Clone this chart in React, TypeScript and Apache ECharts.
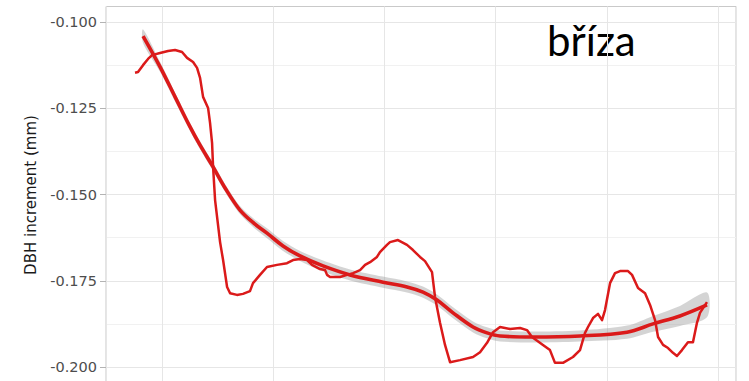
import React, { useEffect, useRef } from "react";
import * as echarts from "echarts";

// Running (moving-window) DBH increment, red raw trace
const traceX = [75.7, 78.4, 82.9, 87.4, 91.0, 98.2, 105.4, 111.7, 118.0, 122.5, 127.9, 131.5, 134.2, 136.9, 141.4, 143.2, 145.0, 145.9, 147.7, 152.2, 154.9, 158.5, 161.2, 167.4, 172.8, 179.1, 181.8, 188.1, 194.4, 203.4, 212.4, 217.8, 224.1, 230.4, 234.9, 242.1, 246.6, 248.4, 251.1, 260.1, 266.4, 271.8, 278.1, 282.6, 287.1, 293.3, 296.0, 302.3, 305.0, 312.2, 320.3, 325.7, 332.0, 336.5, 342.8, 345.5, 350.0, 354.5, 359.0, 368.0, 379.7, 386.0, 392.3, 397.7, 404.0, 413.0, 422.0, 428.2, 432.7, 442.6, 448.9, 453.4, 460.6, 469.6, 475.9, 480.4, 483.1, 487.6, 492.1, 495.7, 498.4, 502.9, 507.4, 511.9, 519.1, 522.7, 528.1, 534.4, 538.9, 543.4, 546.1, 550.6, 555.1, 559.5, 563.1, 567.6, 573.0, 577.5, 581.1, 583.8, 590.1];
const traceY = [-0.1147, -0.1145, -0.1125, -0.1107, -0.1096, -0.1090, -0.1084, -0.1081, -0.1087, -0.1104, -0.1116, -0.1133, -0.1162, -0.1217, -0.1249, -0.1293, -0.1351, -0.1420, -0.1516, -0.1638, -0.1690, -0.1768, -0.1786, -0.1791, -0.1788, -0.1780, -0.1757, -0.1733, -0.1710, -0.1704, -0.1699, -0.1690, -0.1687, -0.1690, -0.1704, -0.1716, -0.1719, -0.1733, -0.1739, -0.1739, -0.1733, -0.1728, -0.1719, -0.1704, -0.1696, -0.1681, -0.1667, -0.1646, -0.1638, -0.1632, -0.1646, -0.1661, -0.1681, -0.1693, -0.1725, -0.1797, -0.1872, -0.1936, -0.1986, -0.1980, -0.1971, -0.1957, -0.1930, -0.1899, -0.1884, -0.1890, -0.1887, -0.1893, -0.1913, -0.1936, -0.1951, -0.1988, -0.1988, -0.1971, -0.1951, -0.1901, -0.1884, -0.1858, -0.1846, -0.1864, -0.1835, -0.1757, -0.1728, -0.1722, -0.1722, -0.1733, -0.1771, -0.1786, -0.1820, -0.1864, -0.1913, -0.1936, -0.1945, -0.1959, -0.1968, -0.1951, -0.1928, -0.1928, -0.1872, -0.1843, -0.1812];

// Smoothed fit and its standard-error half-width
const fitX = [82.9, 98.2, 111.7, 125.2, 134.2, 145.9, 156.7, 170.1, 183.6, 194.4, 208.8, 224.1, 244.8, 269.1, 298.7, 320.3, 334.7, 347.3, 361.7, 379.7, 392.3, 404.0, 433.6, 475.9, 518.2, 541.6, 565.8, 590.1];
const fitY = [-0.1041, -0.1130, -0.1217, -0.1304, -0.1357, -0.1420, -0.1481, -0.1545, -0.1586, -0.1612, -0.1649, -0.1678, -0.1707, -0.1733, -0.1754, -0.1768, -0.1783, -0.1806, -0.1843, -0.1884, -0.1901, -0.1910, -0.1913, -0.1910, -0.1899, -0.1875, -0.1852, -0.1820];
const fitSE = [0.0020, 0.00145, 0.0013, 0.00116, 0.00116, 0.00116, 0.00116, 0.00116, 0.0013, 0.00145, 0.00145, 0.00145, 0.0016, 0.0016, 0.0016, 0.0016, 0.0016, 0.0016, 0.0016, 0.0016, 0.0016, 0.0016, 0.0016, 0.0016, 0.0019, 0.0023, 0.0029, 0.0036];

const yTickValues = [-0.2, -0.175, -0.15, -0.125, -0.1];
const speciesName = "bříza";
const yAxisTitle = "DBH increment (mm)";

const RED = "#db1a1a";

export default function App() {
  const ref = useRef<HTMLDivElement>(null);

  useEffect(() => {
    if (!ref.current) return;
    const chart = echarts.init(ref.current, null, { renderer: "svg" });

    const trace = traceX.map((x, i) => [x, traceY[i]]);
    const fit = fitX.map((x, i) => [x, fitY[i]]);

    const isMajor = (v: number) =>
      yTickValues.some((t) => Math.abs(t - v) < 1e-9);

    chart.setOption({
      animation: false,
      grid: {
        left: 106,
        top: 6.5,
        width: 630,
        height: 446.75,
        outerBoundsMode: "none",
        containLabel: false,
        show: true,
        backgroundColor: "transparent",
        borderColor: "#c9c9c9",
        borderWidth: 1,
      },
      xAxis: {
        type: "value",
        min: 49.6,
        max: 616.2,
        minInterval: 100,
        maxInterval: 100,
        axisLine: { show: false },
        axisTick: { show: false },
        axisLabel: { show: false },
        splitLine: { show: true, lineStyle: { color: "#e6e6e6", width: 1 } },
      },
      yAxis: {
        type: "value",
        min: -0.225,
        max: -0.0955,
        interval: 0.025,
        axisLine: { show: false },
        axisTick: {
          show: true,
          length: 6,
          customValues: yTickValues,
          lineStyle: { color: "#b3b3b3", width: 1 },
        },
        axisLabel: {
          margin: 9,
          color: "#4d4d4d",
          fontFamily: "DejaVu Sans",
          fontSize: 14.5,
          formatter: (v: number) => (isMajor(v) ? v.toFixed(3) : ""),
        },
        splitLine: { show: true, lineStyle: { color: "#e6e6e6", width: 1 } },
        minorTick: { show: false, splitNumber: 2 },
        minorSplitLine: { show: true, lineStyle: { color: "#f1f1f1", width: 1 } },
      },
      graphic: [
        {
          type: "text",
          x: 547,
          y: 40,
          style: {
            text: speciesName,
            fontFamily: "Lato",
            fontSize: 42,
            fill: "#000000",
            textAlign: "left",
            textVerticalAlign: "middle",
          },
        },
        {
          type: "text",
          x: 31,
          y: 195,
          rotation: Math.PI / 2,
          style: {
            text: yAxisTitle,
            fontFamily: "DejaVu Sans",
            fontSize: 15,
            fill: "#1a1a1a",
            textAlign: "center",
            textVerticalAlign: "middle",
          },
        },
      ],
      series: [
        {
          // confidence band around the smoothed fit
          type: "custom",
          coordinateSystem: "cartesian2d",
          data: [[fitX[0], fitY[0]]],
          silent: true,
          z: 1,
          renderItem: (_params: any, api: any) => {
            const upper = fitX.map((x, i) => api.coord([x, fitY[i] + fitSE[i]]));
            const lower = fitX
              .map((x, i) => api.coord([x, fitY[i] - fitSE[i]]))
              .reverse();
            return {
              type: "polygon",
              shape: { points: upper.concat(lower), smooth: 0.3 },
              style: { fill: "rgba(153,153,153,0.42)" },
            };
          },
        },
        {
          type: "line",
          data: trace,
          symbol: "none",
          lineStyle: { color: RED, width: 2.5, join: "round" },
          z: 2,
        },
        {
          type: "line",
          data: fit,
          smooth: 0.35,
          symbol: "none",
          lineStyle: { color: RED, width: 3.6 },
          z: 3,
        },
      ],
    });

    return () => chart.dispose();
  }, []);

  return (
    <div
      ref={ref}
      style={{ position: "absolute", left: 0, top: 0, width: 749, height: 381 }}
    />
  );
}
